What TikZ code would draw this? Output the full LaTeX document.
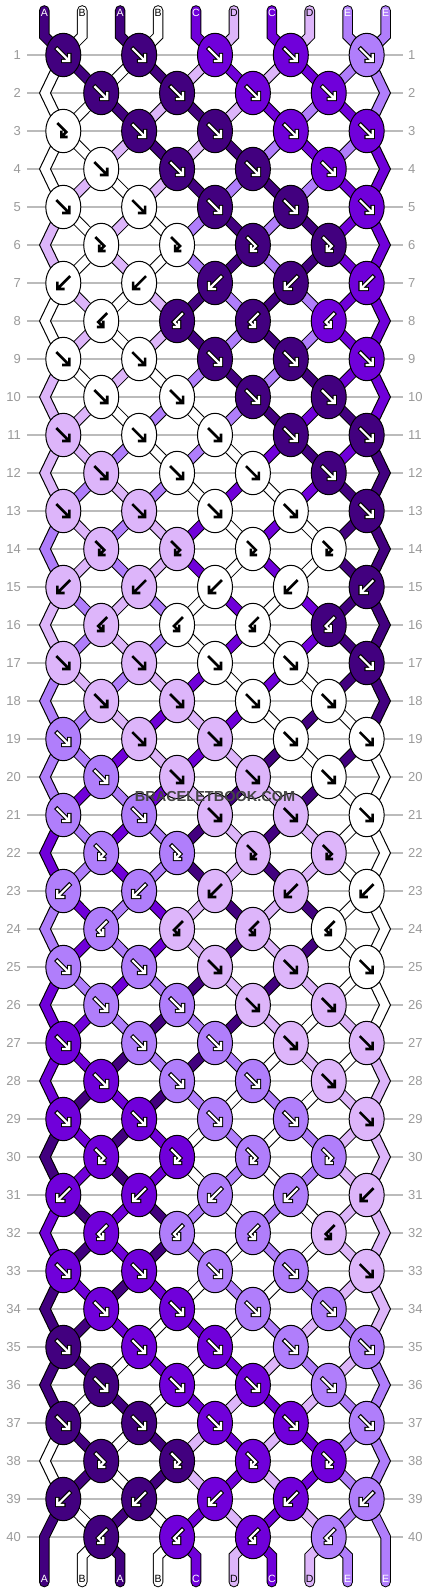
\documentclass[tikz,border=0pt]{standalone}
\usepackage{fontspec}
\setmainfont{Liberation Sans}
\usetikzlibrary{shapes.geometric}
\definecolor{sA}{HTML}{42007F}
\definecolor{sB}{HTML}{FFFFFF}
\definecolor{sC}{HTML}{7000DA}
\definecolor{sD}{HTML}{DDB5FA}
\definecolor{sE}{HTML}{B07EFB}
\definecolor{rowgray}{HTML}{BBBBBB}
\definecolor{labgray}{HTML}{9A9A9A}
\definecolor{wmgray}{HTML}{454545}
\def\acA{W}\def\acB{K}\def\acC{W}\def\acD{K}\def\acE{W}
\def\tcA{white}\def\tcB{black}\def\tcC{white}\def\tcD{black}\def\tcE{white}
\def\glf{(-6,-6) -- (5,5) (6,0) -- (6,6) -- (0,6)}
\def\glb{(6,-6) -- (-5,5) (-6,0) -- (-6,6) -- (0,6)}
\def\glfb{(-5,-7) -- (3,1) -- (-1,5) (-2,1) -- (-2,6) -- (3,6)}
\def\glbf{(5,-7) -- (-3,1) -- (1,5) (2,1) -- (2,6) -- (-3,6)}
\tikzset{
  strand/.style={draw=black, double=#1, double distance=8.6pt, line width=1pt, line join=miter},
  endstrand/.style={strand=#1, line cap=round},
  edgeband/.style={fill=#1, draw=black, line width=1pt, line join=miter},
  knotnode/.style={ellipse, draw=black, line width=1pt, fill=#1, minimum width=35pt, minimum height=43.4pt, inner sep=0pt},
  rowline/.style={draw=rowgray, line width=1.2pt},
  rowlab/.style={text=labgray, font=\fontsize{13}{13}\selectfont, inner sep=0pt},
  strlab/.style={font=\fontsize{10.5}{10.5}\selectfont, inner sep=0pt},
  glyphout/.style={draw=black, line width=4.4pt, line cap=rect, line join=miter},
  glyphin/.style={draw=white, line width=2.2pt, line cap=rect, line join=miter},
  glyphblk/.style={draw=black, line width=2.6pt, line cap=rect, line join=miter},
}
\newcommand\kglyph[3]{%
  \expandafter\let\expandafter\gp\csname gl#2\endcsname
  \if#3W
    \draw[glyphout, shift={(#1)}] \gp;
    \draw[glyphin, shift={(#1)}] \gp;
  \else
    \draw[glyphblk, shift={(#1)}] \gp;
  \fi}
\begin{document}
\begin{tikzpicture}[x=1pt,y=-1pt]
\fill[white] (0,0) rectangle (430,1592);
\useasboundingbox (0,0) rectangle (430,1592);
% coordinates, row labels, row lines
\foreach \ro in {1,...,40} {
  \foreach \jj in {0,...,8} {
    \coordinate (k-\ro-\jj) at ({63.3+37.92*\jj},{55+38*(\ro-1)});
  }
  \coordinate (eL-\ro) at (45,{55+38*(\ro-1)});
  \coordinate (eR-\ro) at (384.96,{55+38*(\ro-1)});
  \node[rowlab, anchor=east] (rl-\ro) at (21,{55+38*(\ro-1)}) {\ro};
  \node[rowlab, anchor=west] (rr-\ro) at (408,{55+38*(\ro-1)}) {\ro};
  \draw[rowline] ([xshift=6pt]rl-\ro.east) -- ([xshift=-5pt]rr-\ro.west);
}
% edge zigzags
\foreach \ro/\cL/\cR in {2/B/E,4/B/C,6/D/C,8/B/C,10/D/C,12/D/A,14/E/A,16/D/A,18/E/A,20/E/B,22/C/B,24/E/B,26/C/B,28/C/D,30/A/D,32/C/D,34/A/D,36/A/E,38/B/E} {
  \pgfmathtruncatemacro\ra{\ro-1}
  \pgfmathtruncatemacro\rb{\ro+1}
  \draw[edgeband=s\cL] ([xshift=-5.5pt]k-\ra-0) -- ([xshift=-5.5pt]eL-\ro) -- ([xshift=-5.5pt]k-\rb-0) -- ([xshift=5.5pt]k-\rb-0) -- ([xshift=5.5pt]eL-\ro) -- ([xshift=5.5pt]k-\ra-0) -- cycle;
  \draw[edgeband=s\cR] ([xshift=-5.5pt]k-\ra-8) -- ([xshift=-5.5pt]eR-\ro) -- ([xshift=-5.5pt]k-\rb-8) -- ([xshift=5.5pt]k-\rb-8) -- ([xshift=5.5pt]eR-\ro) -- ([xshift=5.5pt]k-\ra-8) -- cycle;
}
% diagonal strand segments between rows
\foreach \ro/\st in {
 1/{B,A,B,A,D,C,D,C,E,E}, 2/{B,B,A,D,A,D,C,E,C,E}, 3/{B,B,D,A,D,A,E,C,E,C}, 4/{B,D,B,D,A,E,A,E,C,C},
 5/{D,B,D,B,E,A,E,A,C,C}, 6/{D,B,D,B,E,A,E,A,C,C}, 7/{B,D,B,D,A,E,A,E,C,C}, 8/{B,D,B,D,A,E,A,E,C,C},
 9/{D,B,D,B,E,A,E,A,C,C}, 10/{D,D,B,E,B,E,A,C,A,C}, 11/{D,D,E,B,E,B,C,A,C,A}, 12/{D,E,D,E,B,C,B,C,A,A},
 13/{E,D,E,D,C,B,C,B,A,A}, 14/{E,D,E,D,C,B,C,B,A,A}, 15/{D,E,D,E,B,C,B,C,A,A}, 16/{D,E,D,E,B,C,B,C,A,A},
 17/{E,D,E,D,C,B,C,B,A,A}, 18/{E,E,D,C,D,C,B,A,B,A}, 19/{E,E,C,D,C,D,A,B,A,B}, 20/{E,C,E,C,D,A,D,A,B,B},
 21/{C,E,C,E,A,D,A,D,B,B}, 22/{C,E,C,E,A,D,A,D,B,B}, 23/{E,C,E,C,D,A,D,A,B,B}, 24/{E,C,E,C,D,A,D,A,B,B},
 25/{C,E,C,E,A,D,A,D,B,B}, 26/{C,C,E,A,E,A,D,B,D,B}, 27/{C,C,A,E,A,E,B,D,B,D}, 28/{C,A,C,A,E,B,E,B,D,D},
 29/{A,C,A,C,B,E,B,E,D,D}, 30/{A,C,A,C,B,E,B,E,D,D}, 31/{C,A,C,A,E,B,E,B,D,D}, 32/{C,A,C,A,E,B,E,B,D,D},
 33/{A,C,A,C,B,E,B,E,D,D}, 34/{A,A,C,B,C,B,E,D,E,D}, 35/{A,A,B,C,B,C,D,E,D,E}, 36/{A,B,A,B,C,D,C,D,E,E},
 37/{B,A,B,A,D,C,D,C,E,E}, 38/{B,A,B,A,D,C,D,C,E,E}, 39/{A,B,A,B,C,D,C,D,E,E}} {
  \pgfmathtruncatemacro\rn{\ro+1}
  \foreach \co [count=\po from 0] in \st {
    \ifnum\po>0 \ifnum\po<9
      \pgfmathtruncatemacro\ja{isodd(\ro) ? 2*floor(\po/2) : 2*floor((\po+1)/2)-1}
      \pgfmathtruncatemacro\jb{isodd(\rn) ? 2*floor(\po/2) : 2*floor((\po+1)/2)-1}
      \draw[strand=s\co] (k-\ro-\ja) -- (k-\rn-\jb);
    \fi\fi
  }
}
% top strands and labels
\foreach \co [count=\ii from 0] in {A,B,A,B,C,D,C,D,E,E} {
  \pgfmathtruncatemacro\jj{2*floor(\ii/2)}
  \coordinate (tA-\ii) at ({44.3+37.92*\ii},10.5);
  \coordinate (tB-\ii) at ({44.3+37.92*\ii},36);
  \draw[endstrand=s\co] (tA-\ii) -- (tB-\ii) -- (k-1-\jj);
  \edef\tc{\csname tc\co\endcsname}
  \node[strlab, text=\tc] (tl-\ii) at ({44.3+37.92*\ii},12.7) {\co};
}
% bottom strands and labels
\foreach \co [count=\ii from 0] in {A,B,A,B,C,D,C,D,E,E} {
  \coordinate (bB-\ii) at ({44.3+37.92*\ii},1582);
  \ifnum\ii=0
    \coordinate (bA-\ii) at ({44.3+37.92*\ii},1537);
    \draw[endstrand=s\co] (k-39-0) -- (bA-\ii) -- (bB-\ii);
  \else\ifnum\ii=9
    \coordinate (bA-\ii) at ({44.3+37.92*\ii},1537);
    \draw[endstrand=s\co] (k-39-8) -- (bA-\ii) -- (bB-\ii);
  \else
    \pgfmathtruncatemacro\jj{2*floor((\ii+1)/2)-1}
    \coordinate (bA-\ii) at ({44.3+37.92*\ii},1556);
    \draw[endstrand=s\co] (k-40-\jj) -- (bA-\ii) -- (bB-\ii);
  \fi\fi
  \edef\tc{\csname tc\co\endcsname}
  \node[strlab, text=\tc] (bl-\ii) at ({44.3+37.92*\ii},1579) {\co};
}
% knots
\foreach \ro/\ty/\ks in {
 1/f/{A,A,C,C,E}, 2/f/{A,A,C,C}, 3/f/{B,A,A,C,C}, 4/f/{B,A,A,C}, 5/f/{B,B,A,A,C}, 6/fb/{B,B,A,A},
 7/b/{B,B,A,A,C}, 8/bf/{B,A,A,C}, 9/f/{B,B,A,A,C}, 10/f/{B,B,A,A}, 11/f/{D,B,B,A,A}, 12/f/{D,B,B,A},
 13/f/{D,D,B,B,A}, 14/fb/{D,D,B,B}, 15/b/{D,D,B,B,A}, 16/bf/{D,B,B,A}, 17/f/{D,D,B,B,A}, 18/f/{D,D,B,B},
 19/f/{E,D,D,B,B}, 20/f/{E,D,D,B}, 21/f/{E,E,D,D,B}, 22/fb/{E,E,D,D}, 23/b/{E,E,D,D,B}, 24/bf/{E,D,D,B},
 25/f/{E,E,D,D,B}, 26/f/{E,E,D,D}, 27/f/{C,E,E,D,D}, 28/f/{C,E,E,D}, 29/f/{C,C,E,E,D}, 30/fb/{C,C,E,E},
 31/b/{C,C,E,E,D}, 32/bf/{C,E,E,D}, 33/f/{C,C,E,E,D}, 34/f/{C,C,E,E}, 35/f/{A,C,C,E,E}, 36/f/{A,C,C,E},
 37/f/{A,A,C,C,E}, 38/fb/{A,A,C,C}, 39/b/{A,A,C,C,E}, 40/bf/{A,C,C,E}} {
  \foreach \co [count=\nn from 0] in \ks {
    \pgfmathtruncatemacro\jj{isodd(\ro) ? 2*\nn : 2*\nn+1}
    \node[knotnode=s\co] (n-\ro-\jj) at (k-\ro-\jj) {};
    \edef\ac{\csname ac\co\endcsname}
    \edef\tyk{\ty}
    \ifnum\ro=3 \ifnum\nn=0 \def\tyk{fb}\fi\fi
    \kglyph{k-\ro-\jj}{\tyk}{\ac}
  }
}
% watermark
\node[font=\fontsize{14.5}{14.5}\selectfont\bfseries, text=wmgray, inner sep=0pt] (wm) at (215,796) {BRACELETBOOK.COM};
\end{tikzpicture}
\end{document}
